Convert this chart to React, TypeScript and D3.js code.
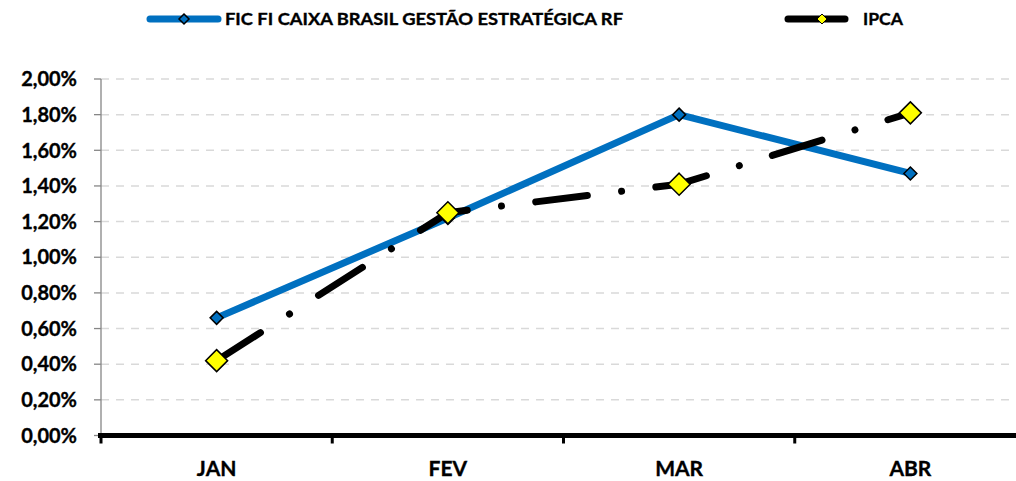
import React from "react";
import * as d3 from "d3";

const months = ["JAN", "FEV", "MAR", "ABR"];
const fundValues = [0.0066, 0.0122, 0.018, 0.0147];
const ipcaValues = [0.0042, 0.0125, 0.0141, 0.0181];
const yTicks = [0, 0.002, 0.004, 0.006, 0.008, 0.01, 0.012, 0.014, 0.016, 0.018, 0.02];
const fundName = "FIC FI CAIXA BRASIL GESTÃO ESTRATÉGICA RF";
const ipcaName = "IPCA";

const W = 1016;
const H = 481;
const FONT = "Lato, 'Open Sans', sans-serif";

export default function App() {
  const x = d3.scaleBand<string>().domain(months).range([101, 1026]);
  const y = d3.scaleLinear().domain([0, 0.02]).range([435.5, 79]);
  const fmt = (v: number) => (v * 100).toFixed(2).replace(".", ",") + "%";
  const cx = (m: string) => (x(m) as number) + x.bandwidth() / 2;

  const line = d3.line<[number, number]>().x((d) => d[0]).y((d) => d[1]);
  const fundPts = months.map((m, i) => [cx(m), y(fundValues[i])] as [number, number]);
  const ipcaPts = months.map((m, i) => [cx(m), y(ipcaValues[i])] as [number, number]);

  const diamond = (px: number, py: number, r: number) =>
    `M${px},${py - r}L${px + r},${py}L${px},${py + r}L${px - r},${py}Z`;

  const bold = { fontFamily: FONT, fontWeight: 700, fill: "#000", stroke: "#000", strokeWidth: 0.35 } as const;

  return (
    <svg width={W} height={H} style={{ position: "absolute", left: 0, top: 0 }}>
      <rect x={0} y={0} width={W} height={H} fill="#fff" />
      {/* grid */}
      {yTicks.slice(1).map((t) => (
        <line key={t} x1={101} x2={W} y1={y(t)} y2={y(t)} stroke="#d9d9d9" strokeWidth={1.5} strokeDasharray="8 7" />
      ))}
      {/* y axis */}
      <line x1={101} x2={101} y1={y(0.02)} y2={y(0)} stroke="#868686" strokeWidth={1.3} />
      {yTicks.map((t) => (
        <g key={"t" + t}>
          <line x1={94} x2={101} y1={y(t)} y2={y(t)} stroke="#868686" strokeWidth={1.3} />
          <text x={77} y={y(t)} dy="0.36em" textAnchor="end" fontSize={20} {...bold}>
            {fmt(t)}
          </text>
        </g>
      ))}
      {/* x axis */}
      <line x1={98} x2={W} y1={y(0)} y2={y(0)} stroke="#000" strokeWidth={5} />
      {months.map((m) => (
        <line key={"xt" + m} x1={x(m) as number} x2={x(m) as number} y1={y(0)} y2={y(0) + 8} stroke="#000" strokeWidth={3} />
      ))}
      {months.map((m) => (
        <text key={"xl" + m} x={cx(m)} y={468} dy="0.36em" textAnchor="middle" fontSize={21} {...bold}>
          {m}
        </text>
      ))}
      {/* fund line */}
      <path d={line(fundPts) as string} fill="none" stroke="#0070C0" strokeWidth={7} strokeLinejoin="round" />
      {/* ipca line */}
      <path d={line(ipcaPts) as string} fill="none" stroke="#000" strokeWidth={7} strokeLinecap="round" strokeLinejoin="round" strokeDasharray="52 34.5 0.01 34.5" />
      {fundPts.map((p, i) => (
        <path key={"fm" + i} d={diamond(p[0], p[1], 6.5)} fill="#0070C0" stroke="#000" strokeWidth={1.5} />
      ))}
      {ipcaPts.map((p, i) => (
        <path key={"im" + i} d={diamond(p[0], p[1], 11)} fill="#ffff00" stroke="#000" strokeWidth={1.5} />
      ))}
      {/* legend */}
      <line x1={150} x2={218} y1={19} y2={19} stroke="#0070C0" strokeWidth={7} strokeLinecap="round" />
      <path d={diamond(184, 19, 5)} fill="#0070C0" stroke="#000" strokeWidth={1.5} />
      <text x={225} y={19} dy="0.36em" fontSize={17} textLength={398} lengthAdjust="spacingAndGlyphs" {...bold}>
        {fundName}
      </text>
      <line x1={788} x2={845} y1={19} y2={19} stroke="#000" strokeWidth={7} strokeLinecap="round" />
      <path d={diamond(822, 19, 5)} fill="#ffff00" stroke="#000" strokeWidth={1} />
      <text x={863} y={19} dy="0.36em" fontSize={17} textLength={40} lengthAdjust="spacingAndGlyphs" {...bold}>
        {ipcaName}
      </text>
    </svg>
  );
}
